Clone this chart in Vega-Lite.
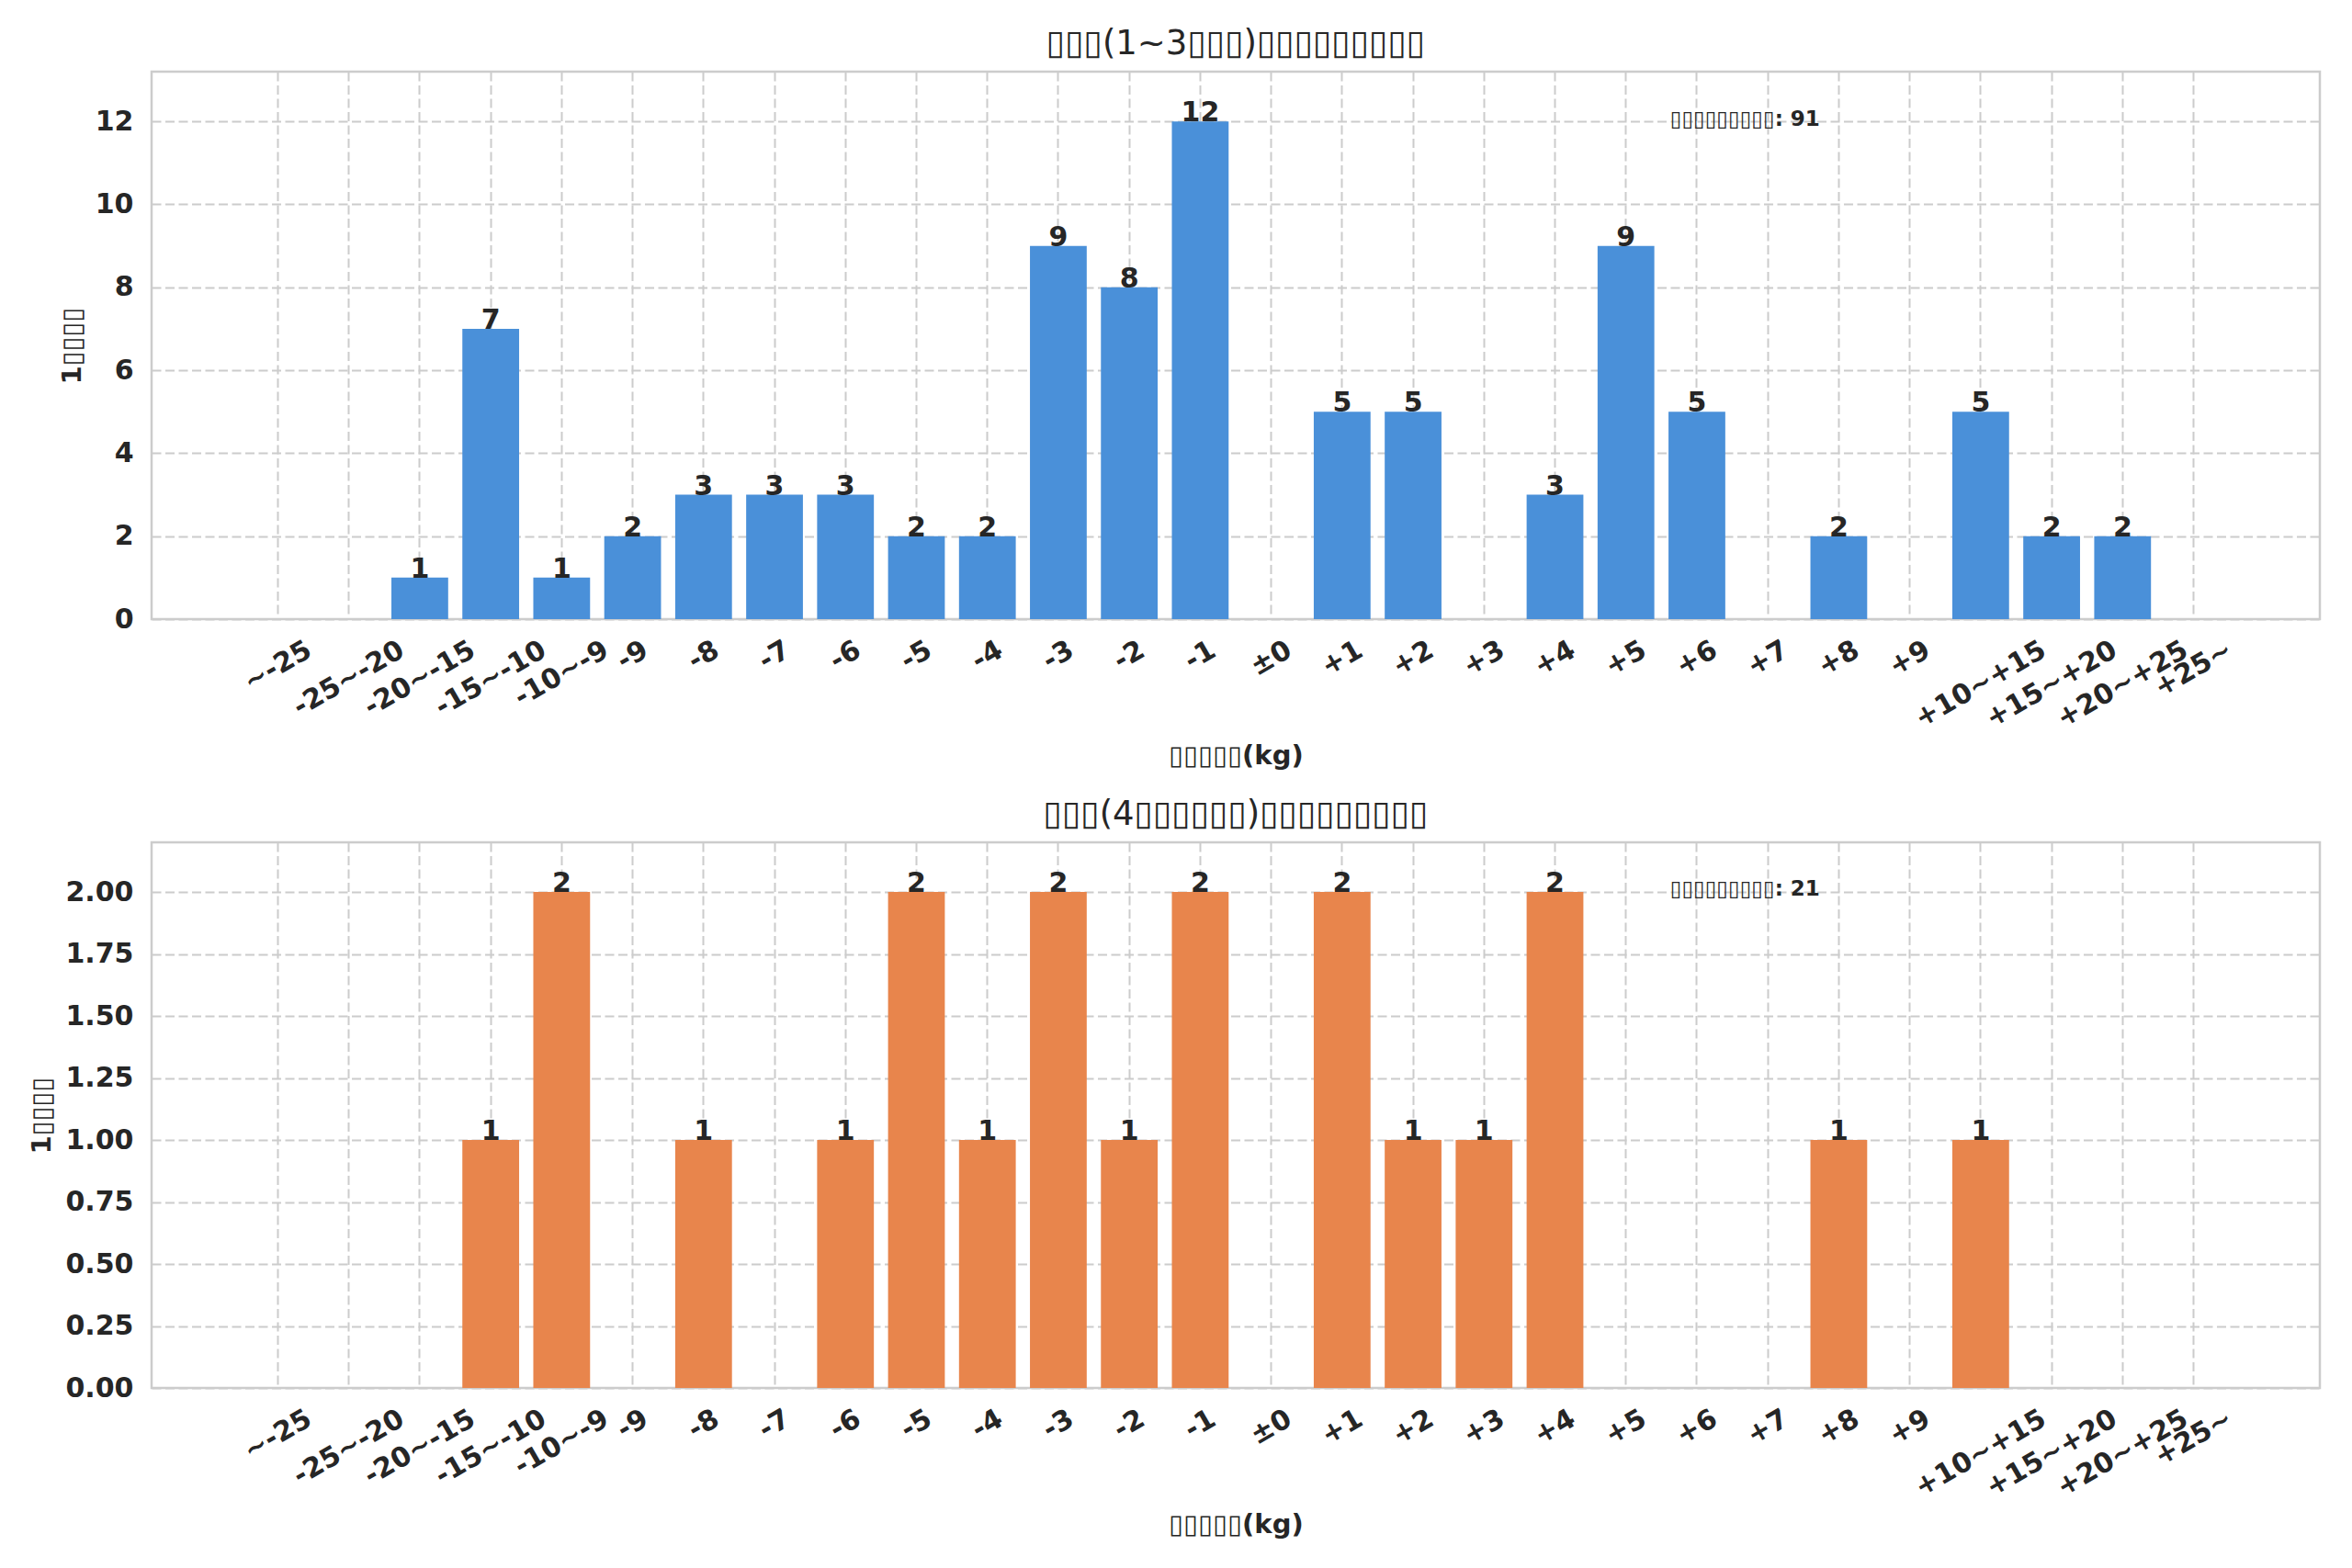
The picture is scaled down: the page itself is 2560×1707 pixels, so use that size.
{
  "$schema": "https://vega.github.io/schema/vega-lite/v6.json",
  "background": "white",
  "padding": {"left": 30, "top": 27, "right": 10, "bottom": 10},
  "datasets": {
    "early": [
      {"range": "~-25", "count": 0},
      {"range": "-25~-20", "count": 0},
      {"range": "-20~-15", "count": 1},
      {"range": "-15~-10", "count": 7},
      {"range": "-10~-9", "count": 1},
      {"range": "-9", "count": 2},
      {"range": "-8", "count": 3},
      {"range": "-7", "count": 3},
      {"range": "-6", "count": 3},
      {"range": "-5", "count": 2},
      {"range": "-4", "count": 2},
      {"range": "-3", "count": 9},
      {"range": "-2", "count": 8},
      {"range": "-1", "count": 12},
      {"range": "±0", "count": 0},
      {"range": "+1", "count": 5},
      {"range": "+2", "count": 5},
      {"range": "+3", "count": 0},
      {"range": "+4", "count": 3},
      {"range": "+5", "count": 9},
      {"range": "+6", "count": 5},
      {"range": "+7", "count": 0},
      {"range": "+8", "count": 2},
      {"range": "+9", "count": 0},
      {"range": "+10~+15", "count": 5},
      {"range": "+15~+20", "count": 2},
      {"range": "+20~+25", "count": 2},
      {"range": "+25~", "count": 0}
    ],
    "late": [
      {"range": "~-25", "count": 0},
      {"range": "-25~-20", "count": 0},
      {"range": "-20~-15", "count": 0},
      {"range": "-15~-10", "count": 1},
      {"range": "-10~-9", "count": 2},
      {"range": "-9", "count": 0},
      {"range": "-8", "count": 1},
      {"range": "-7", "count": 0},
      {"range": "-6", "count": 1},
      {"range": "-5", "count": 2},
      {"range": "-4", "count": 1},
      {"range": "-3", "count": 2},
      {"range": "-2", "count": 1},
      {"range": "-1", "count": 2},
      {"range": "±0", "count": 0},
      {"range": "+1", "count": 2},
      {"range": "+2", "count": 1},
      {"range": "+3", "count": 1},
      {"range": "+4", "count": 2},
      {"range": "+5", "count": 0},
      {"range": "+6", "count": 0},
      {"range": "+7", "count": 0},
      {"range": "+8", "count": 1},
      {"range": "+9", "count": 0},
      {"range": "+10~+15", "count": 1},
      {"range": "+15~+20", "count": 0},
      {"range": "+20~+25", "count": 0},
      {"range": "+25~", "count": 0}
    ],
    "notes": [
      {"panel": "early", "text": "▯▯▯▯▯▯▯▯▯: 91"},
      {"panel": "late", "text": "▯▯▯▯▯▯▯▯▯: 21"}
    ]
  },
  "vconcat": [
    {
      "width": 2360,
      "height": 596,
      "title": {"text": "▯▯▯(1~3▯▯▯)▯▯▯▯▯▯▯▯▯"},
      "layer": [
        {
          "data": {"name": "early"},
          "mark": {"type": "bar", "color": "#4a90d9"},
          "encoding": {
            "x": {"field": "range", "type": "nominal", "sort": null, "title": "▯▯▯▯▯(kg)",
                  "scale": {"domain": [" ", "~-25", "-25~-20", "-20~-15", "-15~-10", "-10~-9", "-9", "-8", "-7", "-6", "-5", "-4", "-3", "-2", "-1", "±0", "+1", "+2", "+3", "+4", "+5", "+6", "+7", "+8", "+9", "+10~+15", "+15~+20", "+20~+25", "+25~", "  "],
                            "paddingInner": 0.2, "paddingOuter": 0.38},
                  "axis": {"values": ["~-25", "-25~-20", "-20~-15", "-15~-10", "-10~-9", "-9", "-8", "-7", "-6", "-5", "-4", "-3", "-2", "-1", "±0", "+1", "+2", "+3", "+4", "+5", "+6", "+7", "+8", "+9", "+10~+15", "+15~+20", "+20~+25", "+25~"]}},
            "y": {"field": "count", "type": "quantitative", "title": "1▯▯▯▯",
                  "scale": {"domain": [0, 13.2], "nice": false},
                  "axis": {"values": [0, 2, 4, 6, 8, 10, 12]}}
          }
        },
        {
          "data": {"name": "early"},
          "transform": [{"filter": "datum.count > 0"}],
          "mark": {"type": "text", "baseline": "alphabetic", "fontSize": 30, "fontWeight": "bold", "color": "#262626"},
          "encoding": {
            "x": {"field": "range", "type": "nominal", "sort": null},
            "y": {"field": "count", "type": "quantitative"},
            "text": {"field": "count", "type": "quantitative"}
          }
        },
        {
          "data": {"name": "early"},
          "mark": {
            "type": "text", "angle": 330, "align": "center", "baseline": "middle",
            "fontSize": 30, "fontWeight": "bold", "color": "#262626",
            "dx": {"expr": "-0.5 * (31.5 + (21 * length(datum.range) - 8.5 * (length(datum.range) - length(replace(datum.range, regexp('-', 'g'), ''))) + 4 * (length(datum.range) - length(replace(datum.range, regexp('[~+±]', 'g'), '')))) / 4)"},
            "dy": {"expr": "0.866 * (31.5 + (21 * length(datum.range) - 8.5 * (length(datum.range) - length(replace(datum.range, regexp('-', 'g'), ''))) + 4 * (length(datum.range) - length(replace(datum.range, regexp('[~+±]', 'g'), '')))) / 4)"}
          },
          "encoding": {
            "x": {"field": "range", "type": "nominal", "sort": null},
            "y": {"datum": 0, "type": "quantitative"},
            "text": {"field": "range"}
          }
        },
        {
          "data": {"name": "notes"},
          "transform": [{"filter": "datum.panel == 'early'"}],
          "mark": {"type": "text", "align": "left", "baseline": "middle", "dx": 48, "dy": -2, "fontSize": 23, "fontWeight": "bold", "color": "#262626"},
          "encoding": {
            "x": {"datum": "+5", "type": "nominal"},
            "y": {"datum": 12, "type": "quantitative"},
            "text": {"field": "text"}
          }
        }
      ]
    },
    {
      "width": 2360,
      "height": 594,
      "title": {"text": "▯▯▯(4▯▯▯▯▯▯)▯▯▯▯▯▯▯▯▯"},
      "layer": [
        {
          "data": {"name": "late"},
          "mark": {"type": "bar", "color": "#e8854c"},
          "encoding": {
            "x": {"field": "range", "type": "nominal", "sort": null, "title": "▯▯▯▯▯(kg)",
                  "scale": {"domain": [" ", "~-25", "-25~-20", "-20~-15", "-15~-10", "-10~-9", "-9", "-8", "-7", "-6", "-5", "-4", "-3", "-2", "-1", "±0", "+1", "+2", "+3", "+4", "+5", "+6", "+7", "+8", "+9", "+10~+15", "+15~+20", "+20~+25", "+25~", "  "],
                            "paddingInner": 0.2, "paddingOuter": 0.38},
                  "axis": {"values": ["~-25", "-25~-20", "-20~-15", "-15~-10", "-10~-9", "-9", "-8", "-7", "-6", "-5", "-4", "-3", "-2", "-1", "±0", "+1", "+2", "+3", "+4", "+5", "+6", "+7", "+8", "+9", "+10~+15", "+15~+20", "+20~+25", "+25~"]}},
            "y": {"field": "count", "type": "quantitative", "title": "1▯▯▯▯",
                  "scale": {"domain": [0, 2.2], "nice": false},
                  "axis": {"values": [0, 0.25, 0.5, 0.75, 1, 1.25, 1.5, 1.75, 2], "format": ".2f"}}
          }
        },
        {
          "data": {"name": "late"},
          "transform": [{"filter": "datum.count > 0"}],
          "mark": {"type": "text", "baseline": "alphabetic", "fontSize": 30, "fontWeight": "bold", "color": "#262626"},
          "encoding": {
            "x": {"field": "range", "type": "nominal", "sort": null},
            "y": {"field": "count", "type": "quantitative"},
            "text": {"field": "count", "type": "quantitative"}
          }
        },
        {
          "data": {"name": "late"},
          "mark": {
            "type": "text", "angle": 330, "align": "center", "baseline": "middle",
            "fontSize": 30, "fontWeight": "bold", "color": "#262626",
            "dx": {"expr": "-0.5 * (31.5 + (21 * length(datum.range) - 8.5 * (length(datum.range) - length(replace(datum.range, regexp('-', 'g'), ''))) + 4 * (length(datum.range) - length(replace(datum.range, regexp('[~+±]', 'g'), '')))) / 4)"},
            "dy": {"expr": "0.866 * (31.5 + (21 * length(datum.range) - 8.5 * (length(datum.range) - length(replace(datum.range, regexp('-', 'g'), ''))) + 4 * (length(datum.range) - length(replace(datum.range, regexp('[~+±]', 'g'), '')))) / 4)"}
          },
          "encoding": {
            "x": {"field": "range", "type": "nominal", "sort": null},
            "y": {"datum": 0, "type": "quantitative"},
            "text": {"field": "range"}
          }
        },
        {
          "data": {"name": "notes"},
          "transform": [{"filter": "datum.panel == 'late'"}],
          "mark": {"type": "text", "align": "left", "baseline": "middle", "dx": 48, "dy": -3, "fontSize": 23, "fontWeight": "bold", "color": "#262626"},
          "encoding": {
            "x": {"datum": "+5", "type": "nominal"},
            "y": {"datum": 2, "type": "quantitative"},
            "text": {"field": "text"}
          }
        }
      ]
    }
  ],
  "spacing": 27,
  "config": {
    "font": "DejaVu Sans",
    "view": {"stroke": "#cccccc", "strokeWidth": 2.5},
    "title": {"fontSize": 37, "fontWeight": "normal", "color": "#262626", "offset": 11},
    "axis": {
      "domain": false,
      "ticks": false,
      "grid": true,
      "gridColor": "#cccccc",
      "gridDash": [10, 4.5],
      "gridWidth": 2,
      "labelFont": "DejaVu Sans",
      "labelFontSize": 30,
      "labelFontWeight": "bold",
      "labelColor": "#262626",
      "titleFont": "DejaVu Sans",
      "titleFontSize": 29,
      "titleFontWeight": "bold",
      "titleColor": "#262626"
    },
    "axisX": {
      "bandPosition": 0.5,
      "labels": false,
      "titlePadding": 134
    },
    "axisY": {"labelPadding": 20, "titlePadding": 10}
  }
}
